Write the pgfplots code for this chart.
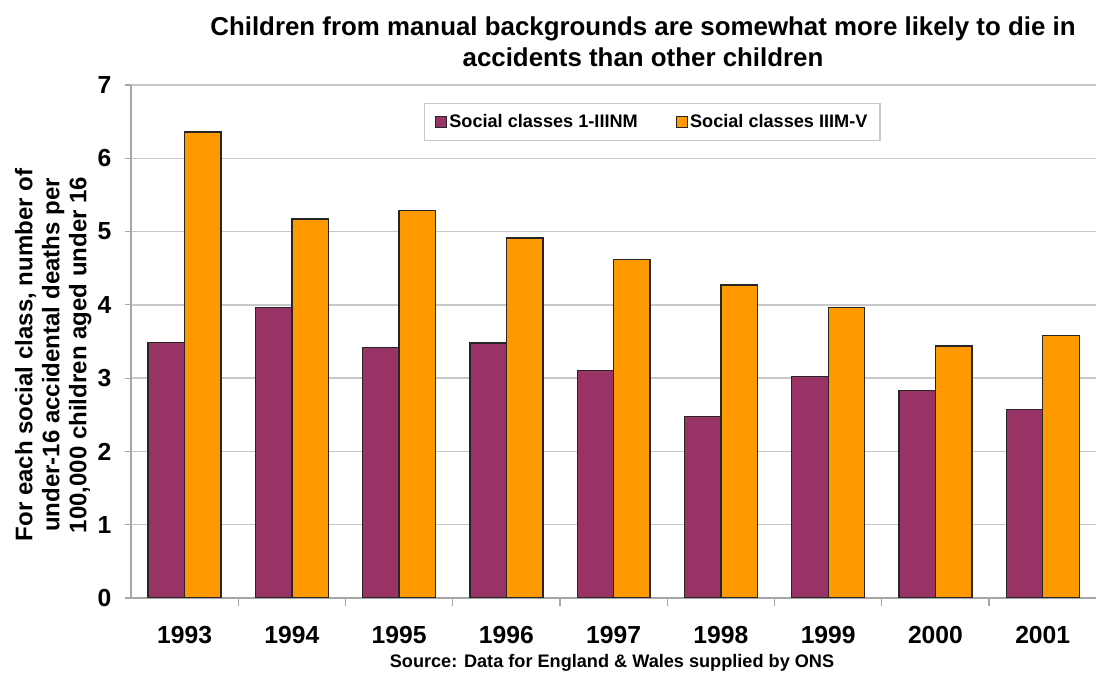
\documentclass[border=0pt]{standalone}
\usepackage{fontspec}
\setmainfont{Liberation Sans}
\usepackage{pgfplots}
\usepackage{pgfplotstable}
\pgfplotsset{compat=1.18}

\definecolor{plum}{HTML}{993366}
\definecolor{amber}{HTML}{FF9900}
\definecolor{gridgray}{HTML}{C8C8C8}
\definecolor{axisgray}{HTML}{A6A6A6}

% Accidental deaths of children under 16 per 100,000, by social class
\pgfplotstableread{
x nonmanual manual
0 3.49 6.36
1 3.96 5.17
2 3.42 5.29
3 3.48 4.91
4 3.10 4.62
5 2.48 4.27
6 3.02 3.96
7 2.83 3.44
8 2.57 3.58
}\rates

\pgfplotsset{
  squarelegend/.style={
    legend image code/.code={
      \draw[##1,draw=black!85,line width=0.8pt] (0pt,-4.2pt) rectangle (8.4pt,4.2pt);
    }
  }
}

\begin{document}
\begin{tikzpicture}
\begin{axis}[
  at={(98.25pt,56.25pt)}, anchor=south west,
  scale only axis, width=724pt, height=384.75pt,
  ybar=0pt, bar width=0.34,
  xmin=-0.5, xmax=8.5, ymin=0, ymax=7,
  xtick={0,...,8},
  xticklabels={1993,1994,1995,1996,1997,1998,1999,2000,2001},
  minor xtick={0.5,1.5,...,7.5},
  ytick={0,...,7},
  axis x line*=bottom, axis y line*=left,
  axis line style={-, draw=axisgray, line width=1.3pt},
  tick align=outside,
  major tick length=4.5pt, minor tick length=6pt,
  major x tick style={draw=none},
  minor x tick style={draw=axisgray, line width=0.9pt},
  major y tick style={draw=axisgray, line width=0.9pt},
  ymajorgrids, grid style={draw=gridgray, line width=1pt},
  /pgf/number format/assume math mode=true,
  ticklabel style={font=\bfseries\fontsize{18.5}{20}\selectfont},
  xticklabel style={anchor=north, inner sep=0pt, yshift=-16.5pt},
  yticklabel style={anchor=east, inner sep=0pt, xshift=-10pt},
  legend columns=2,
  legend style={
    at={(0.540,0.928)}, anchor=center,
    draw=gridgray, line width=1pt,
    font=\bfseries\fontsize{13.6}{15}\selectfont,
    inner xsep=8pt, inner ysep=6pt,
    /tikz/every even column/.append style={column sep=27pt},
    nodes={inner xsep=1.5pt, inner ysep=2pt},
  },
  squarelegend,
]
\addplot[fill=plum, draw=black!85, line width=1pt] table[x=x, y=nonmanual] {\rates};
\addlegendentry{Social classes 1-IIINM}
\addplot[fill=amber, draw=black!85, line width=1pt] table[x=x, y=manual] {\rates};
\addlegendentry{Social classes IIIM-V}
\end{axis}

% title
\node[anchor=base, font=\bfseries\fontsize{19.4}{22}\selectfont]
  at (482.25pt,477.75pt) {Children from manual backgrounds are somewhat more likely to die in};
\node[anchor=base, font=\bfseries\fontsize{19.4}{22}\selectfont]
  at (482.25pt,454.5pt) {accidents than other children};

% y-axis title
\node[rotate=90, align=center, font=\bfseries\fontsize{18}{20.25}\selectfont]
  at (40pt,238.5pt) {For each social class, number of\\under-16 accidental deaths per\\100,000 children aged under 16};

% source note
\node[anchor=base, font=\bfseries\fontsize{13.6}{15}\selectfont]
  at (459pt,3.75pt) {Source: Data for England \& Wales supplied by ONS};

\pgfresetboundingbox
\path (0,0) rectangle (822.75pt,504.75pt);
\end{tikzpicture}
\end{document}
